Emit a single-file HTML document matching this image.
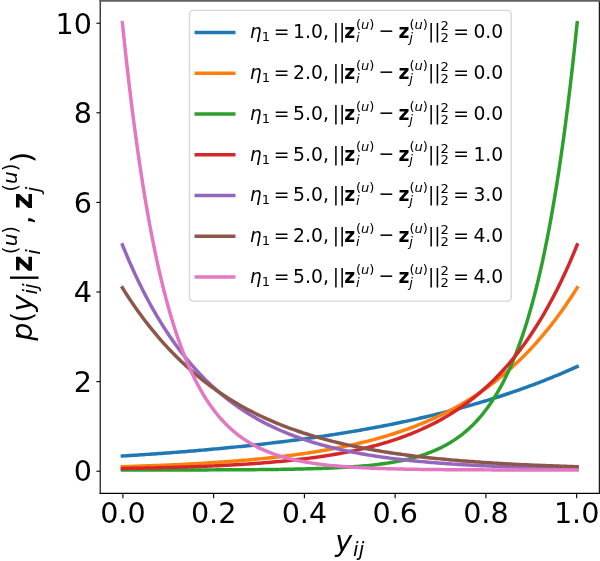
<!DOCTYPE html>
<html><head><meta charset="utf-8"><title>plot</title>
<style>html,body{margin:0;padding:0;background:#fff}svg{display:block}</style></head>
<body>
<svg width="600" height="561" viewBox="0 0 432 403.92" version="1.1">
 <style>svg text{font-family:"DejaVu Sans","Liberation Sans",sans-serif}svg *{stroke-linejoin: round; stroke-linecap: butt}</style>
 <g id="figure_1">
  <g id="patch_1">
   <path d="M 0 403.92  L 432 403.92  L 432 0  L 0 0  z
" style="fill: #ffffff"/>
  </g>
  <g id="axes_1">
   <g id="patch_2">
    <path d="M 72.144 355.248  L 431.532 355.248  L 431.532 0.432  L 72.144 0.432  z
" style="fill: #ffffff"/>
   </g>
   <g id="matplotlib.axis_1">
    <g id="xtick_1">
     <g id="line2d_1">
      <g>
       <path d="M 88.479 355.248 l 0 3.5" style="fill: none; stroke: #000000; stroke-width: 0.8"/>
      </g>
     </g>
     <g id="text_1">
      <text style="font-size: 20.6px; text-anchor: middle" x="88.479" y="376.500" transform="rotate(-0 88.479 376.500)">0.0</text>
     </g>
    </g>
    <g id="xtick_2">
     <g id="line2d_2">
      <g>
       <path d="M 153.823 355.248 l 0 3.5" style="fill: none; stroke: #000000; stroke-width: 0.8"/>
      </g>
     </g>
     <g id="text_2">
      <text style="font-size: 20.6px; text-anchor: middle" x="153.823" y="376.500" transform="rotate(-0 153.823 376.500)">0.2</text>
     </g>
    </g>
    <g id="xtick_3">
     <g id="line2d_3">
      <g>
       <path d="M 219.166 355.248 l 0 3.5" style="fill: none; stroke: #000000; stroke-width: 0.8"/>
      </g>
     </g>
     <g id="text_3">
      <text style="font-size: 20.6px; text-anchor: middle" x="219.166" y="376.500" transform="rotate(-0 219.166 376.500)">0.4</text>
     </g>
    </g>
    <g id="xtick_4">
     <g id="line2d_4">
      <g>
       <path d="M 284.509 355.248 l 0 3.5" style="fill: none; stroke: #000000; stroke-width: 0.8"/>
      </g>
     </g>
     <g id="text_4">
      <text style="font-size: 20.6px; text-anchor: middle" x="284.509" y="376.500" transform="rotate(-0 284.509 376.500)">0.6</text>
     </g>
    </g>
    <g id="xtick_5">
     <g id="line2d_5">
      <g>
       <path d="M 349.852 355.248 l 0 3.5" style="fill: none; stroke: #000000; stroke-width: 0.8"/>
      </g>
     </g>
     <g id="text_5">
      <text style="font-size: 20.6px; text-anchor: middle" x="349.852" y="376.500" transform="rotate(-0 349.852 376.500)">0.8</text>
     </g>
    </g>
    <g id="xtick_6">
     <g id="line2d_6">
      <g>
       <path d="M 415.196 355.248 l 0 3.5" style="fill: none; stroke: #000000; stroke-width: 0.8"/>
      </g>
     </g>
     <g id="text_6">
      <text style="font-size: 20.6px; text-anchor: middle" x="415.196" y="376.500" transform="rotate(-0 415.196 376.500)">1.0</text>
     </g>
    </g>
    <g id="text_7">
     <g transform="translate(241.435 397.535)">
      <text>
       <tspan x="0.000" y="-0.515" style="font-style: oblique; font-size: 20.6px">y</tspan>
       <tspan x="12.785" y="2.929" style="font-style: oblique; font-size: 14.42px">i</tspan>
       <tspan x="16.797" y="2.929" style="font-style: oblique; font-size: 14.42px">j</tspan>
      </text>
     </g>
    </g>
   </g>
   <g id="matplotlib.axis_2">
    <g id="ytick_1">
     <g id="line2d_7">
      <g>
       <path d="M 72.144 339.274 l -2.75 0" style="fill: none; stroke: #000000; stroke-width: 0.8"/>
      </g>
     </g>
     <g id="text_8">
      <text style="font-size: 20.6px; text-anchor: end" x="66.194" y="346.561" transform="rotate(-0 66.194 346.561)">0</text>
     </g>
    </g>
    <g id="ytick_2">
     <g id="line2d_8">
      <g>
       <path d="M 72.144 274.762 l -2.75 0" style="fill: none; stroke: #000000; stroke-width: 0.8"/>
      </g>
     </g>
     <g id="text_9">
      <text style="font-size: 20.6px; text-anchor: end" x="66.194" y="282.049" transform="rotate(-0 66.194 282.049)">2</text>
     </g>
    </g>
    <g id="ytick_3">
     <g id="line2d_9">
      <g>
       <path d="M 72.144 210.250 l -2.75 0" style="fill: none; stroke: #000000; stroke-width: 0.8"/>
      </g>
     </g>
     <g id="text_10">
      <text style="font-size: 20.6px; text-anchor: end" x="66.194" y="217.537" transform="rotate(-0 66.194 217.537)">4</text>
     </g>
    </g>
    <g id="ytick_4">
     <g id="line2d_10">
      <g>
       <path d="M 72.144 145.738 l -2.75 0" style="fill: none; stroke: #000000; stroke-width: 0.8"/>
      </g>
     </g>
     <g id="text_11">
      <text style="font-size: 20.6px; text-anchor: end" x="66.194" y="153.025" transform="rotate(-0 66.194 153.025)">6</text>
     </g>
    </g>
    <g id="ytick_5">
     <g id="line2d_11">
      <g>
       <path d="M 72.144 81.226 l -2.75 0" style="fill: none; stroke: #000000; stroke-width: 0.8"/>
      </g>
     </g>
     <g id="text_12">
      <text style="font-size: 20.6px; text-anchor: end" x="66.194" y="88.513" transform="rotate(-0 66.194 88.513)">8</text>
     </g>
    </g>
    <g id="ytick_6">
     <g id="line2d_12">
      <g>
       <path d="M 72.144 16.714 l -2.75 0" style="fill: none; stroke: #000000; stroke-width: 0.8"/>
      </g>
     </g>
     <g id="text_13">
      <text style="font-size: 20.6px; text-anchor: end" x="66.194" y="24.721" transform="rotate(-0 66.194 24.721)">10</text>
     </g>
    </g>
    <g id="text_14">
     <g transform="translate(23.944 244.790) rotate(-90)">
      <text>
       <tspan x="-0.600" y="-0.907" style="font-style: oblique; font-size: 20.6px">p</tspan>
       <tspan x="20.538" y="-0.907" style="font-style: oblique; font-size: 20.6px">y</tspan>
       <tspan x="12.492" y="-0.907" style="font-size: 20.6px">(</tspan>
       <tspan x="41.341" y="-0.907" style="font-size: 20.6px">|</tspan>
       <tspan x="83.185" y="-0.907" style="font-size: 20.6px">,</tspan>
       <tspan x="127.354" y="-0.907" style="font-size: 20.6px">)</tspan>
       <tspan x="32.744" y="2.537" style="font-style: oblique; font-size: 14.42px">i</tspan>
       <tspan x="36.755" y="2.537" style="font-style: oblique; font-size: 14.42px">j</tspan>
       <tspan x="61.295" y="4.834" style="font-style: oblique; font-size: 14.42px">i</tspan>
       <tspan x="67.427" y="-11.923" style="font-style: oblique; font-size: 14.42px">u</tspan>
       <tspan x="106.364" y="4.834" style="font-style: oblique; font-size: 14.42px">j</tspan>
       <tspan x="112.297" y="-11.923" style="font-style: oblique; font-size: 14.42px">u</tspan>
       <tspan x="48.889" y="-0.907" style="font-weight: 700; font-size: 20.6px">z</tspan>
       <tspan x="94.159" y="-0.907" style="font-weight: 700; font-size: 20.6px">z</tspan>
       <tspan x="61.795" y="-11.923" style="font-size: 14.42px">(</tspan>
       <tspan x="76.578" y="-11.923" style="font-size: 14.42px">)</tspan>
       <tspan x="106.664" y="-11.923" style="font-size: 14.42px">(</tspan>
       <tspan x="121.447" y="-11.923" style="font-size: 14.42px">)</tspan>
      </text>
     </g>
    </g>
   </g>
   <g id="line2d_13">
    <path d="M 88.119 328.333  L 89.765 328.231  L 91.410 328.128  L 93.055 328.024  L 94.701 327.919  L 96.346 327.813  L 97.992 327.706  L 99.637 327.598  L 101.282 327.489  L 102.928 327.378  L 104.573 327.267  L 106.219 327.154  L 107.864 327.040  L 109.509 326.926  L 111.155 326.810  L 112.800 326.692  L 114.446 326.574  L 116.091 326.454  L 117.737 326.333  L 119.382 326.211  L 121.027 326.088  L 122.673 325.964  L 124.318 325.838  L 125.964 325.711  L 127.609 325.583  L 129.254 325.453  L 130.900 325.322  L 132.545 325.190  L 134.191 325.056  L 135.836 324.921  L 137.481 324.785  L 139.127 324.647  L 140.772 324.508  L 142.418 324.368  L 144.063 324.226  L 145.708 324.083  L 147.354 323.938  L 148.999 323.792  L 150.645 323.644  L 152.290 323.495  L 153.936 323.344  L 155.581 323.192  L 157.226 323.038  L 158.872 322.883  L 160.517 322.726  L 162.163 322.567  L 163.808 322.407  L 165.453 322.246  L 167.099 322.082  L 168.744 321.917  L 170.390 321.751  L 172.035 321.582  L 173.680 321.412  L 175.326 321.241  L 176.971 321.067  L 178.617 320.892  L 180.262 320.715  L 181.908 320.536  L 183.553 320.356  L 185.198 320.173  L 186.844 319.989  L 188.489 319.803  L 190.135 319.615  L 191.780 319.425  L 193.425 319.233  L 195.071 319.039  L 196.716 318.844  L 198.362 318.646  L 200.007 318.446  L 201.652 318.245  L 203.298 318.041  L 204.943 317.835  L 206.589 317.627  L 208.234 317.417  L 209.880 317.205  L 211.525 316.991  L 213.170 316.775  L 214.816 316.556  L 216.461 316.335  L 218.107 316.112  L 219.752 315.887  L 221.397 315.659  L 223.043 315.430  L 224.688 315.197  L 226.334 314.963  L 227.979 314.726  L 229.624 314.487  L 231.270 314.245  L 232.915 314.001  L 234.561 313.754  L 236.206 313.505  L 237.852 313.254  L 239.497 313.000  L 241.142 312.743  L 242.788 312.484  L 244.433 312.222  L 246.079 311.957  L 247.724 311.690  L 249.369 311.420  L 251.015 311.147  L 252.660 310.872  L 254.306 310.594  L 255.951 310.313  L 257.596 310.029  L 259.242 309.742  L 260.887 309.452  L 262.533 309.160  L 264.178 308.864  L 265.823 308.566  L 267.469 308.264  L 269.114 307.960  L 270.760 307.652  L 272.405 307.341  L 274.051 307.028  L 275.696 306.711  L 277.341 306.390  L 278.987 306.067  L 280.632 305.740  L 282.278 305.410  L 283.923 305.077  L 285.568 304.740  L 287.214 304.400  L 288.859 304.056  L 290.505 303.709  L 292.150 303.359  L 293.795 303.005  L 295.441 302.647  L 297.086 302.286  L 298.732 301.921  L 300.377 301.552  L 302.023 301.180  L 303.668 300.804  L 305.313 300.424  L 306.959 300.040  L 308.604 299.652  L 310.250 299.261  L 311.895 298.865  L 313.540 298.466  L 315.186 298.062  L 316.831 297.655  L 318.477 297.243  L 320.122 296.827  L 321.767 296.407  L 323.413 295.983  L 325.058 295.554  L 326.704 295.121  L 328.349 294.684  L 329.995 294.242  L 331.640 293.796  L 333.285 293.345  L 334.931 292.890  L 336.576 292.430  L 338.222 291.966  L 339.867 291.497  L 341.512 291.023  L 343.158 290.544  L 344.803 290.061  L 346.449 289.572  L 348.094 289.079  L 349.739 288.580  L 351.385 288.077  L 353.030 287.569  L 354.676 287.055  L 356.321 286.536  L 357.967 286.012  L 359.612 285.483  L 361.257 284.948  L 362.903 284.408  L 364.548 283.863  L 366.194 283.312  L 367.839 282.755  L 369.484 282.193  L 371.130 281.625  L 372.775 281.051  L 374.421 280.472  L 376.066 279.887  L 377.711 279.296  L 379.357 278.698  L 381.002 278.095  L 382.648 277.486  L 384.293 276.871  L 385.939 276.249  L 387.584 275.621  L 389.229 274.987  L 390.875 274.346  L 392.520 273.699  L 394.166 273.045  L 395.811 272.385  L 397.456 271.718  L 399.102 271.044  L 400.747 270.364  L 402.393 269.676  L 404.038 268.982  L 405.683 268.281  L 407.329 267.572  L 408.974 266.857  L 410.620 266.134  L 412.265 265.404  L 413.910 264.666  L 415.556 263.921 
" style="fill: none; stroke: #1f77b4; stroke-width: 2.5; stroke-linecap: square"/>
   </g>
   <g id="line2d_14">
    <path d="M 88.119 336.011  L 89.765 335.962  L 91.410 335.912  L 93.055 335.861  L 94.701 335.809  L 96.346 335.757  L 97.992 335.703  L 99.637 335.648  L 101.282 335.591  L 102.928 335.534  L 104.573 335.476  L 106.219 335.416  L 107.864 335.355  L 109.509 335.293  L 111.155 335.230  L 112.800 335.165  L 114.446 335.099  L 116.091 335.032  L 117.737 334.963  L 119.382 334.893  L 121.027 334.821  L 122.673 334.748  L 124.318 334.674  L 125.964 334.598  L 127.609 334.521  L 129.254 334.441  L 130.900 334.361  L 132.545 334.279  L 134.191 334.195  L 135.836 334.109  L 137.481 334.021  L 139.127 333.932  L 140.772 333.841  L 142.418 333.748  L 144.063 333.654  L 145.708 333.557  L 147.354 333.458  L 148.999 333.358  L 150.645 333.255  L 152.290 333.150  L 153.936 333.044  L 155.581 332.934  L 157.226 332.823  L 158.872 332.710  L 160.517 332.594  L 162.163 332.476  L 163.808 332.355  L 165.453 332.232  L 167.099 332.107  L 168.744 331.979  L 170.390 331.848  L 172.035 331.715  L 173.680 331.579  L 175.326 331.440  L 176.971 331.298  L 178.617 331.154  L 180.262 331.006  L 181.908 330.856  L 183.553 330.702  L 185.198 330.546  L 186.844 330.386  L 188.489 330.223  L 190.135 330.057  L 191.780 329.887  L 193.425 329.714  L 195.071 329.537  L 196.716 329.357  L 198.362 329.173  L 200.007 328.985  L 201.652 328.794  L 203.298 328.599  L 204.943 328.399  L 206.589 328.196  L 208.234 327.989  L 209.880 327.777  L 211.525 327.561  L 213.170 327.341  L 214.816 327.116  L 216.461 326.886  L 218.107 326.652  L 219.752 326.414  L 221.397 326.170  L 223.043 325.921  L 224.688 325.668  L 226.334 325.409  L 227.979 325.145  L 229.624 324.875  L 231.270 324.600  L 232.915 324.320  L 234.561 324.034  L 236.206 323.742  L 237.852 323.444  L 239.497 323.140  L 241.142 322.830  L 242.788 322.513  L 244.433 322.191  L 246.079 321.861  L 247.724 321.525  L 249.369 321.182  L 251.015 320.832  L 252.660 320.475  L 254.306 320.111  L 255.951 319.739  L 257.596 319.360  L 259.242 318.973  L 260.887 318.579  L 262.533 318.176  L 264.178 317.765  L 265.823 317.346  L 267.469 316.918  L 269.114 316.482  L 270.760 316.036  L 272.405 315.582  L 274.051 315.118  L 275.696 314.645  L 277.341 314.163  L 278.987 313.670  L 280.632 313.168  L 282.278 312.655  L 283.923 312.132  L 285.568 311.599  L 287.214 311.054  L 288.859 310.499  L 290.505 309.932  L 292.150 309.354  L 293.795 308.764  L 295.441 308.162  L 297.086 307.547  L 298.732 306.921  L 300.377 306.281  L 302.023 305.629  L 303.668 304.963  L 305.313 304.284  L 306.959 303.591  L 308.604 302.884  L 310.250 302.162  L 311.895 301.426  L 313.540 300.675  L 315.186 299.909  L 316.831 299.127  L 318.477 298.330  L 320.122 297.516  L 321.767 296.685  L 323.413 295.838  L 325.058 294.974  L 326.704 294.092  L 328.349 293.192  L 329.995 292.274  L 331.640 291.337  L 333.285 290.381  L 334.931 289.406  L 336.576 288.410  L 338.222 287.395  L 339.867 286.359  L 341.512 285.302  L 343.158 284.224  L 344.803 283.124  L 346.449 282.001  L 348.094 280.856  L 349.739 279.687  L 351.385 278.495  L 353.030 277.278  L 354.676 276.037  L 356.321 274.770  L 357.967 273.478  L 359.612 272.160  L 361.257 270.814  L 362.903 269.442  L 364.548 268.042  L 366.194 266.613  L 367.839 265.155  L 369.484 263.667  L 371.130 262.150  L 372.775 260.601  L 374.421 259.021  L 376.066 257.409  L 377.711 255.765  L 379.357 254.087  L 381.002 252.374  L 382.648 250.627  L 384.293 248.845  L 385.939 247.026  L 387.584 245.171  L 389.229 243.278  L 390.875 241.346  L 392.520 239.375  L 394.166 237.364  L 395.811 235.313  L 397.456 233.219  L 399.102 231.083  L 400.747 228.904  L 402.393 226.681  L 404.038 224.412  L 405.683 222.097  L 407.329 219.736  L 408.974 217.326  L 410.620 214.868  L 412.265 212.359  L 413.910 209.800  L 415.556 207.188 
" style="fill: none; stroke: #ff7f0e; stroke-width: 2.5; stroke-linecap: square"/>
   </g>
   <g id="line2d_15">
    <path d="M 88.119 338.400  L 89.765 338.399  L 91.410 338.398  L 93.055 338.397  L 94.701 338.396  L 96.346 338.395  L 97.992 338.394  L 99.637 338.393  L 101.282 338.392  L 102.928 338.391  L 104.573 338.390  L 106.219 338.389  L 107.864 338.387  L 109.509 338.386  L 111.155 338.385  L 112.800 338.383  L 114.446 338.381  L 116.091 338.380  L 117.737 338.378  L 119.382 338.376  L 121.027 338.374  L 122.673 338.372  L 124.318 338.370  L 125.964 338.368  L 127.609 338.365  L 129.254 338.363  L 130.900 338.360  L 132.545 338.357  L 134.191 338.354  L 135.836 338.351  L 137.481 338.348  L 139.127 338.345  L 140.772 338.341  L 142.418 338.337  L 144.063 338.333  L 145.708 338.329  L 147.354 338.325  L 148.999 338.320  L 150.645 338.315  L 152.290 338.310  L 153.936 338.305  L 155.581 338.299  L 157.226 338.293  L 158.872 338.287  L 160.517 338.281  L 162.163 338.274  L 163.808 338.267  L 165.453 338.259  L 167.099 338.251  L 168.744 338.243  L 170.390 338.234  L 172.035 338.224  L 173.680 338.215  L 175.326 338.204  L 176.971 338.194  L 178.617 338.182  L 180.262 338.170  L 181.908 338.158  L 183.553 338.145  L 185.198 338.131  L 186.844 338.116  L 188.489 338.101  L 190.135 338.084  L 191.780 338.067  L 193.425 338.050  L 195.071 338.031  L 196.716 338.011  L 198.362 337.990  L 200.007 337.968  L 201.652 337.945  L 203.298 337.921  L 204.943 337.896  L 206.589 337.869  L 208.234 337.841  L 209.880 337.812  L 211.525 337.781  L 213.170 337.748  L 214.816 337.714  L 216.461 337.677  L 218.107 337.640  L 219.752 337.600  L 221.397 337.558  L 223.043 337.513  L 224.688 337.467  L 226.334 337.418  L 227.979 337.367  L 229.624 337.313  L 231.270 337.256  L 232.915 337.197  L 234.561 337.134  L 236.206 337.068  L 237.852 336.998  L 239.497 336.925  L 241.142 336.849  L 242.788 336.768  L 244.433 336.683  L 246.079 336.594  L 247.724 336.500  L 249.369 336.402  L 251.015 336.298  L 252.660 336.189  L 254.306 336.074  L 255.951 335.954  L 257.596 335.827  L 259.242 335.693  L 260.887 335.553  L 262.533 335.406  L 264.178 335.251  L 265.823 335.088  L 267.469 334.916  L 269.114 334.736  L 270.760 334.546  L 272.405 334.347  L 274.051 334.138  L 275.696 333.917  L 277.341 333.685  L 278.987 333.442  L 280.632 333.185  L 282.278 332.916  L 283.923 332.633  L 285.568 332.335  L 287.214 332.021  L 288.859 331.692  L 290.505 331.345  L 292.150 330.981  L 293.795 330.598  L 295.441 330.195  L 297.086 329.772  L 298.732 329.326  L 300.377 328.858  L 302.023 328.366  L 303.668 327.848  L 305.313 327.303  L 306.959 326.731  L 308.604 326.128  L 310.250 325.495  L 311.895 324.829  L 313.540 324.129  L 315.186 323.393  L 316.831 322.619  L 318.477 321.805  L 320.122 320.949  L 321.767 320.049  L 323.413 319.103  L 325.058 318.107  L 326.704 317.061  L 328.349 315.960  L 329.995 314.803  L 331.640 313.587  L 333.285 312.307  L 334.931 310.962  L 336.576 309.547  L 338.222 308.059  L 339.867 306.495  L 341.512 304.850  L 343.158 303.120  L 344.803 301.301  L 346.449 299.389  L 348.094 297.377  L 349.739 295.262  L 351.385 293.039  L 353.030 290.700  L 354.676 288.241  L 356.321 285.656  L 357.967 282.937  L 359.612 280.078  L 361.257 277.071  L 362.903 273.910  L 364.548 270.586  L 366.194 267.090  L 367.839 263.414  L 369.484 259.549  L 371.130 255.485  L 372.775 251.211  L 374.421 246.717  L 376.066 241.992  L 377.711 237.022  L 379.357 231.797  L 381.002 226.303  L 382.648 220.525  L 384.293 214.449  L 385.939 208.061  L 387.584 201.343  L 389.229 194.279  L 390.875 186.851  L 392.520 179.040  L 394.166 170.827  L 395.811 162.190  L 397.456 153.108  L 399.102 143.559  L 400.747 133.517  L 402.393 122.957  L 404.038 111.854  L 405.683 100.178  L 407.329 87.900  L 408.974 74.990  L 410.620 61.414  L 412.265 47.139  L 413.910 32.128  L 415.556 16.344 
" style="fill: none; stroke: #2ca02c; stroke-width: 2.5; stroke-linecap: square"/>
   </g>
   <g id="line2d_16">
    <path d="M 88.119 337.322  L 89.765 337.294  L 91.410 337.265  L 93.055 337.236  L 94.701 337.206  L 96.346 337.176  L 97.992 337.144  L 99.637 337.112  L 101.282 337.079  L 102.928 337.045  L 104.573 337.010  L 106.219 336.974  L 107.864 336.937  L 109.509 336.900  L 111.155 336.861  L 112.800 336.822  L 114.446 336.781  L 116.091 336.740  L 117.737 336.697  L 119.382 336.653  L 121.027 336.609  L 122.673 336.563  L 124.318 336.516  L 125.964 336.467  L 127.609 336.418  L 129.254 336.367  L 130.900 336.315  L 132.545 336.261  L 134.191 336.207  L 135.836 336.150  L 137.481 336.093  L 139.127 336.034  L 140.772 335.973  L 142.418 335.911  L 144.063 335.847  L 145.708 335.782  L 147.354 335.715  L 148.999 335.647  L 150.645 335.576  L 152.290 335.504  L 153.936 335.430  L 155.581 335.354  L 157.226 335.276  L 158.872 335.196  L 160.517 335.114  L 162.163 335.030  L 163.808 334.944  L 165.453 334.856  L 167.099 334.765  L 168.744 334.673  L 170.390 334.577  L 172.035 334.480  L 173.680 334.380  L 175.326 334.277  L 176.971 334.172  L 178.617 334.064  L 180.262 333.953  L 181.908 333.840  L 183.553 333.723  L 185.198 333.604  L 186.844 333.481  L 188.489 333.356  L 190.135 333.227  L 191.780 333.095  L 193.425 332.960  L 195.071 332.821  L 196.716 332.679  L 198.362 332.533  L 200.007 332.383  L 201.652 332.230  L 203.298 332.073  L 204.943 331.911  L 206.589 331.746  L 208.234 331.576  L 209.880 331.402  L 211.525 331.224  L 213.170 331.041  L 214.816 330.853  L 216.461 330.661  L 218.107 330.463  L 219.752 330.261  L 221.397 330.054  L 223.043 329.841  L 224.688 329.623  L 226.334 329.399  L 227.979 329.170  L 229.624 328.935  L 231.270 328.693  L 232.915 328.446  L 234.561 328.192  L 236.206 327.932  L 237.852 327.666  L 239.497 327.392  L 241.142 327.112  L 242.788 326.824  L 244.433 326.529  L 246.079 326.227  L 247.724 325.917  L 249.369 325.599  L 251.015 325.273  L 252.660 324.938  L 254.306 324.595  L 255.951 324.244  L 257.596 323.883  L 259.242 323.514  L 260.887 323.134  L 262.533 322.746  L 264.178 322.347  L 265.823 321.938  L 267.469 321.519  L 269.114 321.089  L 270.760 320.648  L 272.405 320.196  L 274.051 319.733  L 275.696 319.257  L 277.341 318.770  L 278.987 318.270  L 280.632 317.757  L 282.278 317.232  L 283.923 316.693  L 285.568 316.140  L 287.214 315.574  L 288.859 314.992  L 290.505 314.396  L 292.150 313.785  L 293.795 313.159  L 295.441 312.516  L 297.086 311.857  L 298.732 311.181  L 300.377 310.489  L 302.023 309.778  L 303.668 309.049  L 305.313 308.302  L 306.959 307.536  L 308.604 306.750  L 310.250 305.945  L 311.895 305.119  L 313.540 304.271  L 315.186 303.403  L 316.831 302.512  L 318.477 301.598  L 320.122 300.662  L 321.767 299.701  L 323.413 298.716  L 325.058 297.706  L 326.704 296.670  L 328.349 295.608  L 329.995 294.519  L 331.640 293.402  L 333.285 292.257  L 334.931 291.082  L 336.576 289.878  L 338.222 288.643  L 339.867 287.377  L 341.512 286.078  L 343.158 284.746  L 344.803 283.381  L 346.449 281.981  L 348.094 280.545  L 349.739 279.072  L 351.385 277.562  L 353.030 276.014  L 354.676 274.426  L 356.321 272.798  L 357.967 271.129  L 359.612 269.417  L 361.257 267.661  L 362.903 265.861  L 364.548 264.015  L 366.194 262.122  L 367.839 260.181  L 369.484 258.190  L 371.130 256.149  L 372.775 254.056  L 374.421 251.909  L 376.066 249.708  L 377.711 247.451  L 379.357 245.137  L 381.002 242.764  L 382.648 240.330  L 384.293 237.834  L 385.939 235.275  L 387.584 232.651  L 389.229 229.960  L 390.875 227.200  L 392.520 224.371  L 394.166 221.469  L 395.811 218.493  L 397.456 215.442  L 399.102 212.313  L 400.747 209.105  L 402.393 205.815  L 404.038 202.441  L 405.683 198.981  L 407.329 195.433  L 408.974 191.795  L 410.620 188.065  L 412.265 184.239  L 413.910 180.316  L 415.556 176.294 
" style="fill: none; stroke: #d62728; stroke-width: 2.5; stroke-linecap: square"/>
   </g>
   <g id="line2d_17">
    <path d="M 88.119 176.294  L 89.765 180.316  L 91.410 184.239  L 93.055 188.065  L 94.701 191.795  L 96.346 195.433  L 97.992 198.981  L 99.637 202.441  L 101.282 205.815  L 102.928 209.105  L 104.573 212.313  L 106.219 215.442  L 107.864 218.493  L 109.509 221.469  L 111.155 224.371  L 112.800 227.200  L 114.446 229.960  L 116.091 232.651  L 117.737 235.275  L 119.382 237.834  L 121.027 240.330  L 122.673 242.764  L 124.318 245.137  L 125.964 247.451  L 127.609 249.708  L 129.254 251.909  L 130.900 254.056  L 132.545 256.149  L 134.191 258.190  L 135.836 260.181  L 137.481 262.122  L 139.127 264.015  L 140.772 265.861  L 142.418 267.661  L 144.063 269.417  L 145.708 271.129  L 147.354 272.798  L 148.999 274.426  L 150.645 276.014  L 152.290 277.562  L 153.936 279.072  L 155.581 280.545  L 157.226 281.981  L 158.872 283.381  L 160.517 284.746  L 162.163 286.078  L 163.808 287.377  L 165.453 288.643  L 167.099 289.878  L 168.744 291.082  L 170.390 292.257  L 172.035 293.402  L 173.680 294.519  L 175.326 295.608  L 176.971 296.670  L 178.617 297.706  L 180.262 298.716  L 181.908 299.701  L 183.553 300.662  L 185.198 301.598  L 186.844 302.512  L 188.489 303.403  L 190.135 304.271  L 191.780 305.119  L 193.425 305.945  L 195.071 306.750  L 196.716 307.536  L 198.362 308.302  L 200.007 309.049  L 201.652 309.778  L 203.298 310.489  L 204.943 311.181  L 206.589 311.857  L 208.234 312.516  L 209.880 313.159  L 211.525 313.785  L 213.170 314.396  L 214.816 314.992  L 216.461 315.574  L 218.107 316.140  L 219.752 316.693  L 221.397 317.232  L 223.043 317.757  L 224.688 318.270  L 226.334 318.770  L 227.979 319.257  L 229.624 319.733  L 231.270 320.196  L 232.915 320.648  L 234.561 321.089  L 236.206 321.519  L 237.852 321.938  L 239.497 322.347  L 241.142 322.746  L 242.788 323.134  L 244.433 323.514  L 246.079 323.883  L 247.724 324.244  L 249.369 324.595  L 251.015 324.938  L 252.660 325.273  L 254.306 325.599  L 255.951 325.917  L 257.596 326.227  L 259.242 326.529  L 260.887 326.824  L 262.533 327.112  L 264.178 327.392  L 265.823 327.666  L 267.469 327.932  L 269.114 328.192  L 270.760 328.446  L 272.405 328.693  L 274.051 328.935  L 275.696 329.170  L 277.341 329.399  L 278.987 329.623  L 280.632 329.841  L 282.278 330.054  L 283.923 330.261  L 285.568 330.463  L 287.214 330.661  L 288.859 330.853  L 290.505 331.041  L 292.150 331.224  L 293.795 331.402  L 295.441 331.576  L 297.086 331.746  L 298.732 331.911  L 300.377 332.073  L 302.023 332.230  L 303.668 332.383  L 305.313 332.533  L 306.959 332.679  L 308.604 332.821  L 310.250 332.960  L 311.895 333.095  L 313.540 333.227  L 315.186 333.356  L 316.831 333.481  L 318.477 333.604  L 320.122 333.723  L 321.767 333.840  L 323.413 333.953  L 325.058 334.064  L 326.704 334.172  L 328.349 334.277  L 329.995 334.380  L 331.640 334.480  L 333.285 334.577  L 334.931 334.673  L 336.576 334.765  L 338.222 334.856  L 339.867 334.944  L 341.512 335.030  L 343.158 335.114  L 344.803 335.196  L 346.449 335.276  L 348.094 335.354  L 349.739 335.430  L 351.385 335.504  L 353.030 335.576  L 354.676 335.647  L 356.321 335.715  L 357.967 335.782  L 359.612 335.847  L 361.257 335.911  L 362.903 335.973  L 364.548 336.034  L 366.194 336.093  L 367.839 336.150  L 369.484 336.207  L 371.130 336.261  L 372.775 336.315  L 374.421 336.367  L 376.066 336.418  L 377.711 336.467  L 379.357 336.516  L 381.002 336.563  L 382.648 336.609  L 384.293 336.653  L 385.939 336.697  L 387.584 336.740  L 389.229 336.781  L 390.875 336.822  L 392.520 336.861  L 394.166 336.900  L 395.811 336.937  L 397.456 336.974  L 399.102 337.010  L 400.747 337.045  L 402.393 337.079  L 404.038 337.112  L 405.683 337.144  L 407.329 337.176  L 408.974 337.206  L 410.620 337.236  L 412.265 337.265  L 413.910 337.294  L 415.556 337.322 
" style="fill: none; stroke: #9467bd; stroke-width: 2.5; stroke-linecap: square"/>
   </g>
   <g id="line2d_18">
    <path d="M 88.119 207.188  L 89.765 209.800  L 91.410 212.359  L 93.055 214.868  L 94.701 217.326  L 96.346 219.736  L 97.992 222.097  L 99.637 224.412  L 101.282 226.681  L 102.928 228.904  L 104.573 231.083  L 106.219 233.219  L 107.864 235.313  L 109.509 237.364  L 111.155 239.375  L 112.800 241.346  L 114.446 243.278  L 116.091 245.171  L 117.737 247.026  L 119.382 248.845  L 121.027 250.627  L 122.673 252.374  L 124.318 254.087  L 125.964 255.765  L 127.609 257.409  L 129.254 259.021  L 130.900 260.601  L 132.545 262.150  L 134.191 263.667  L 135.836 265.155  L 137.481 266.613  L 139.127 268.042  L 140.772 269.442  L 142.418 270.814  L 144.063 272.160  L 145.708 273.478  L 147.354 274.770  L 148.999 276.037  L 150.645 277.278  L 152.290 278.495  L 153.936 279.687  L 155.581 280.856  L 157.226 282.001  L 158.872 283.124  L 160.517 284.224  L 162.163 285.302  L 163.808 286.359  L 165.453 287.395  L 167.099 288.410  L 168.744 289.406  L 170.390 290.381  L 172.035 291.337  L 173.680 292.274  L 175.326 293.192  L 176.971 294.092  L 178.617 294.974  L 180.262 295.838  L 181.908 296.685  L 183.553 297.516  L 185.198 298.330  L 186.844 299.127  L 188.489 299.909  L 190.135 300.675  L 191.780 301.426  L 193.425 302.162  L 195.071 302.884  L 196.716 303.591  L 198.362 304.284  L 200.007 304.963  L 201.652 305.629  L 203.298 306.281  L 204.943 306.921  L 206.589 307.547  L 208.234 308.162  L 209.880 308.764  L 211.525 309.354  L 213.170 309.932  L 214.816 310.499  L 216.461 311.054  L 218.107 311.599  L 219.752 312.132  L 221.397 312.655  L 223.043 313.168  L 224.688 313.670  L 226.334 314.163  L 227.979 314.645  L 229.624 315.118  L 231.270 315.582  L 232.915 316.036  L 234.561 316.482  L 236.206 316.918  L 237.852 317.346  L 239.497 317.765  L 241.142 318.176  L 242.788 318.579  L 244.433 318.973  L 246.079 319.360  L 247.724 319.739  L 249.369 320.111  L 251.015 320.475  L 252.660 320.832  L 254.306 321.182  L 255.951 321.525  L 257.596 321.861  L 259.242 322.191  L 260.887 322.513  L 262.533 322.830  L 264.178 323.140  L 265.823 323.444  L 267.469 323.742  L 269.114 324.034  L 270.760 324.320  L 272.405 324.600  L 274.051 324.875  L 275.696 325.145  L 277.341 325.409  L 278.987 325.668  L 280.632 325.921  L 282.278 326.170  L 283.923 326.414  L 285.568 326.652  L 287.214 326.886  L 288.859 327.116  L 290.505 327.341  L 292.150 327.561  L 293.795 327.777  L 295.441 327.989  L 297.086 328.196  L 298.732 328.399  L 300.377 328.599  L 302.023 328.794  L 303.668 328.985  L 305.313 329.173  L 306.959 329.357  L 308.604 329.537  L 310.250 329.714  L 311.895 329.887  L 313.540 330.057  L 315.186 330.223  L 316.831 330.386  L 318.477 330.546  L 320.122 330.702  L 321.767 330.856  L 323.413 331.006  L 325.058 331.154  L 326.704 331.298  L 328.349 331.440  L 329.995 331.579  L 331.640 331.715  L 333.285 331.848  L 334.931 331.979  L 336.576 332.107  L 338.222 332.232  L 339.867 332.355  L 341.512 332.476  L 343.158 332.594  L 344.803 332.710  L 346.449 332.823  L 348.094 332.934  L 349.739 333.044  L 351.385 333.150  L 353.030 333.255  L 354.676 333.358  L 356.321 333.458  L 357.967 333.557  L 359.612 333.654  L 361.257 333.748  L 362.903 333.841  L 364.548 333.932  L 366.194 334.021  L 367.839 334.109  L 369.484 334.195  L 371.130 334.279  L 372.775 334.361  L 374.421 334.441  L 376.066 334.521  L 377.711 334.598  L 379.357 334.674  L 381.002 334.748  L 382.648 334.821  L 384.293 334.893  L 385.939 334.963  L 387.584 335.032  L 389.229 335.099  L 390.875 335.165  L 392.520 335.230  L 394.166 335.293  L 395.811 335.355  L 397.456 335.416  L 399.102 335.476  L 400.747 335.534  L 402.393 335.591  L 404.038 335.648  L 405.683 335.703  L 407.329 335.757  L 408.974 335.809  L 410.620 335.861  L 412.265 335.912  L 413.910 335.962  L 415.556 336.011 
" style="fill: none; stroke: #8c564b; stroke-width: 2.5; stroke-linecap: square"/>
   </g>
   <g id="line2d_19">
    <path d="M 88.119 16.344  L 89.765 32.128  L 91.410 47.139  L 93.055 61.414  L 94.701 74.990  L 96.346 87.900  L 97.992 100.178  L 99.637 111.854  L 101.282 122.957  L 102.928 133.517  L 104.573 143.559  L 106.219 153.108  L 107.864 162.190  L 109.509 170.827  L 111.155 179.040  L 112.800 186.851  L 114.446 194.279  L 116.091 201.343  L 117.737 208.061  L 119.382 214.449  L 121.027 220.525  L 122.673 226.303  L 124.318 231.797  L 125.964 237.022  L 127.609 241.992  L 129.254 246.717  L 130.900 251.211  L 132.545 255.485  L 134.191 259.549  L 135.836 263.414  L 137.481 267.090  L 139.127 270.586  L 140.772 273.910  L 142.418 277.071  L 144.063 280.078  L 145.708 282.937  L 147.354 285.656  L 148.999 288.241  L 150.645 290.700  L 152.290 293.039  L 153.936 295.262  L 155.581 297.377  L 157.226 299.389  L 158.872 301.301  L 160.517 303.120  L 162.163 304.850  L 163.808 306.495  L 165.453 308.059  L 167.099 309.547  L 168.744 310.962  L 170.390 312.307  L 172.035 313.587  L 173.680 314.803  L 175.326 315.960  L 176.971 317.061  L 178.617 318.107  L 180.262 319.103  L 181.908 320.049  L 183.553 320.949  L 185.198 321.805  L 186.844 322.619  L 188.489 323.393  L 190.135 324.129  L 191.780 324.829  L 193.425 325.495  L 195.071 326.128  L 196.716 326.731  L 198.362 327.303  L 200.007 327.848  L 201.652 328.366  L 203.298 328.858  L 204.943 329.326  L 206.589 329.772  L 208.234 330.195  L 209.880 330.598  L 211.525 330.981  L 213.170 331.345  L 214.816 331.692  L 216.461 332.021  L 218.107 332.335  L 219.752 332.633  L 221.397 332.916  L 223.043 333.185  L 224.688 333.442  L 226.334 333.685  L 227.979 333.917  L 229.624 334.138  L 231.270 334.347  L 232.915 334.546  L 234.561 334.736  L 236.206 334.916  L 237.852 335.088  L 239.497 335.251  L 241.142 335.406  L 242.788 335.553  L 244.433 335.693  L 246.079 335.827  L 247.724 335.954  L 249.369 336.074  L 251.015 336.189  L 252.660 336.298  L 254.306 336.402  L 255.951 336.500  L 257.596 336.594  L 259.242 336.683  L 260.887 336.768  L 262.533 336.849  L 264.178 336.925  L 265.823 336.998  L 267.469 337.068  L 269.114 337.134  L 270.760 337.197  L 272.405 337.256  L 274.051 337.313  L 275.696 337.367  L 277.341 337.418  L 278.987 337.467  L 280.632 337.513  L 282.278 337.558  L 283.923 337.600  L 285.568 337.640  L 287.214 337.677  L 288.859 337.714  L 290.505 337.748  L 292.150 337.781  L 293.795 337.812  L 295.441 337.841  L 297.086 337.869  L 298.732 337.896  L 300.377 337.921  L 302.023 337.945  L 303.668 337.968  L 305.313 337.990  L 306.959 338.011  L 308.604 338.031  L 310.250 338.050  L 311.895 338.067  L 313.540 338.084  L 315.186 338.101  L 316.831 338.116  L 318.477 338.131  L 320.122 338.145  L 321.767 338.158  L 323.413 338.170  L 325.058 338.182  L 326.704 338.194  L 328.349 338.204  L 329.995 338.215  L 331.640 338.224  L 333.285 338.234  L 334.931 338.243  L 336.576 338.251  L 338.222 338.259  L 339.867 338.267  L 341.512 338.274  L 343.158 338.281  L 344.803 338.287  L 346.449 338.293  L 348.094 338.299  L 349.739 338.305  L 351.385 338.310  L 353.030 338.315  L 354.676 338.320  L 356.321 338.325  L 357.967 338.329  L 359.612 338.333  L 361.257 338.337  L 362.903 338.341  L 364.548 338.345  L 366.194 338.348  L 367.839 338.351  L 369.484 338.354  L 371.130 338.357  L 372.775 338.360  L 374.421 338.363  L 376.066 338.365  L 377.711 338.368  L 379.357 338.370  L 381.002 338.372  L 382.648 338.374  L 384.293 338.376  L 385.939 338.378  L 387.584 338.380  L 389.229 338.381  L 390.875 338.383  L 392.520 338.385  L 394.166 338.386  L 395.811 338.387  L 397.456 338.389  L 399.102 338.390  L 400.747 338.391  L 402.393 338.392  L 404.038 338.393  L 405.683 338.394  L 407.329 338.395  L 408.974 338.396  L 410.620 338.397  L 412.265 338.398  L 413.910 338.399  L 415.556 338.400 
" style="fill: none; stroke: #e377c2; stroke-width: 2.5; stroke-linecap: square"/>
   </g>
   <g id="patch_3">
    <path d="M 72.144 355.248  L 72.144 0.432 
" style="fill: none; stroke: #000000; stroke-width: 0.8; stroke-linejoin: miter; stroke-linecap: square"/>
   </g>
   <g id="patch_4">
    <path d="M 431.532 355.248  L 431.532 0.432 
" style="fill: none; stroke: #000000; stroke-width: 0.8; stroke-linejoin: miter; stroke-linecap: square"/>
   </g>
   <g id="patch_5">
    <path d="M 72.144 355.248  L 431.532 355.248 
" style="fill: none; stroke: #000000; stroke-width: 0.8; stroke-linejoin: miter; stroke-linecap: square"/>
   </g>
   <g id="patch_6">
    <path d="M 72.144 0.6  L 431.532 0.6 
" style="fill: none; stroke: #606060; stroke-width: 1.2; stroke-linejoin: miter; stroke-linecap: square"/>
   </g>
   <g id="legend_1">
    <g id="patch_7">
     <rect x="136.440" y="7.488" width="231.624" height="209.304" rx="2.70" ry="2.70" style="fill: #ffffff; opacity: 0.8; stroke: #cccccc; stroke-linejoin: miter"/>
    </g>
    <g id="line2d_20">
     <path transform="translate(-0.72 -0.36)" d="M 142.02 23.778  L 155.52 23.778  L 169.02 23.778 
" style="fill: none; stroke: #1f77b4; stroke-width: 2.5; stroke-linecap: square"/>
    </g>
    <g id="text_15">
     <g transform="translate(179.82 28.503)">
      <text>
       <tspan x="0.000" y="-0.964" style="font-style: oblique; font-size: 13.5px">η</tspan>
       <tspan x="8.556" y="1.332" style="font-size: 9.45px">1</tspan>
       <tspan x="76.422" y="-7.562" style="font-size: 9.45px">(</tspan>
       <tspan x="86.098" y="-7.562" style="font-size: 9.45px">)</tspan>
       <tspan x="114.951" y="-7.562" style="font-size: 9.45px">(</tspan>
       <tspan x="124.627" y="-7.562" style="font-size: 9.45px">)</tspan>
       <tspan x="137.287" y="-6.623" style="font-size: 9.45px">2</tspan>
       <tspan x="137.287" y="1.864" style="font-size: 9.45px">2</tspan>
       <tspan x="17.221" y="-0.964" style="font-size: 13.5px">=</tspan>
       <tspan x="31.163" y="-0.964" style="font-size: 13.5px">1</tspan>
       <tspan x="39.752" y="-0.964" style="font-size: 13.5px">.</tspan>
       <tspan x="44.043" y="-0.964" style="font-size: 13.5px">0</tspan>
       <tspan x="52.792" y="-0.964" style="font-size: 13.5px">,</tspan>
       <tspan x="59.714" y="-0.964" style="font-size: 13.5px">|</tspan>
       <tspan x="64.262" y="-0.964" style="font-size: 13.5px">|</tspan>
       <tspan x="92.657" y="-1.544" style="font-size: 13.5px">−</tspan>
       <tspan x="128.266" y="-0.964" style="font-size: 13.5px">|</tspan>
       <tspan x="132.815" y="-0.964" style="font-size: 13.5px">|</tspan>
       <tspan x="146.592" y="-1.164" style="font-size: 13.5px">=</tspan>
       <tspan x="161.054" y="-0.964" style="font-size: 13.5px">0</tspan>
       <tspan x="169.643" y="-0.964" style="font-size: 13.5px">.</tspan>
       <tspan x="173.934" y="-0.964" style="font-size: 13.5px">0</tspan>
       <tspan x="68.070" y="-0.964" style="font-weight: 700; font-size: 13.5px">z</tspan>
       <tspan x="107.029" y="-0.964" style="font-weight: 700; font-size: 13.5px">z</tspan>
       <tspan x="76.422" y="1.964" style="font-style: oblique; font-size: 9.45px">i</tspan>
       <tspan x="80.108" y="-7.562" style="font-style: oblique; font-size: 9.45px">u</tspan>
       <tspan x="114.881" y="1.764" style="font-style: oblique; font-size: 9.45px">j</tspan>
       <tspan x="118.637" y="-7.562" style="font-style: oblique; font-size: 9.45px">u</tspan>
      </text>
     </g>
    </g>
    <g id="line2d_21">
     <path transform="translate(-0.72 -0.36)" d="M 142.02 53.127  L 155.52 53.127  L 169.02 53.127 
" style="fill: none; stroke: #ff7f0e; stroke-width: 2.5; stroke-linecap: square"/>
    </g>
    <g id="text_16">
     <g transform="translate(179.82 57.852)">
      <text>
       <tspan x="0.000" y="-0.964" style="font-style: oblique; font-size: 13.5px">η</tspan>
       <tspan x="8.556" y="1.332" style="font-size: 9.45px">1</tspan>
       <tspan x="76.422" y="-7.562" style="font-size: 9.45px">(</tspan>
       <tspan x="86.098" y="-7.562" style="font-size: 9.45px">)</tspan>
       <tspan x="114.951" y="-7.562" style="font-size: 9.45px">(</tspan>
       <tspan x="124.627" y="-7.562" style="font-size: 9.45px">)</tspan>
       <tspan x="137.287" y="-6.623" style="font-size: 9.45px">2</tspan>
       <tspan x="137.287" y="1.864" style="font-size: 9.45px">2</tspan>
       <tspan x="17.221" y="-0.964" style="font-size: 13.5px">=</tspan>
       <tspan x="31.163" y="-0.964" style="font-size: 13.5px">2</tspan>
       <tspan x="39.752" y="-0.964" style="font-size: 13.5px">.</tspan>
       <tspan x="44.043" y="-0.964" style="font-size: 13.5px">0</tspan>
       <tspan x="52.792" y="-0.964" style="font-size: 13.5px">,</tspan>
       <tspan x="59.714" y="-0.964" style="font-size: 13.5px">|</tspan>
       <tspan x="64.262" y="-0.964" style="font-size: 13.5px">|</tspan>
       <tspan x="92.657" y="-1.544" style="font-size: 13.5px">−</tspan>
       <tspan x="128.266" y="-0.964" style="font-size: 13.5px">|</tspan>
       <tspan x="132.815" y="-0.964" style="font-size: 13.5px">|</tspan>
       <tspan x="146.592" y="-1.164" style="font-size: 13.5px">=</tspan>
       <tspan x="161.054" y="-0.964" style="font-size: 13.5px">0</tspan>
       <tspan x="169.643" y="-0.964" style="font-size: 13.5px">.</tspan>
       <tspan x="173.934" y="-0.964" style="font-size: 13.5px">0</tspan>
       <tspan x="68.070" y="-0.964" style="font-weight: 700; font-size: 13.5px">z</tspan>
       <tspan x="107.029" y="-0.964" style="font-weight: 700; font-size: 13.5px">z</tspan>
       <tspan x="76.422" y="1.964" style="font-style: oblique; font-size: 9.45px">i</tspan>
       <tspan x="80.108" y="-7.562" style="font-style: oblique; font-size: 9.45px">u</tspan>
       <tspan x="114.881" y="1.764" style="font-style: oblique; font-size: 9.45px">j</tspan>
       <tspan x="118.637" y="-7.562" style="font-style: oblique; font-size: 9.45px">u</tspan>
      </text>
     </g>
    </g>
    <g id="line2d_22">
     <path transform="translate(-0.72 -0.36)" d="M 142.02 82.476  L 155.52 82.476  L 169.02 82.476 
" style="fill: none; stroke: #2ca02c; stroke-width: 2.5; stroke-linecap: square"/>
    </g>
    <g id="text_17">
     <g transform="translate(179.82 87.201)">
      <text>
       <tspan x="0.000" y="-0.964" style="font-style: oblique; font-size: 13.5px">η</tspan>
       <tspan x="8.556" y="1.332" style="font-size: 9.45px">1</tspan>
       <tspan x="76.422" y="-7.562" style="font-size: 9.45px">(</tspan>
       <tspan x="86.098" y="-7.562" style="font-size: 9.45px">)</tspan>
       <tspan x="114.951" y="-7.562" style="font-size: 9.45px">(</tspan>
       <tspan x="124.627" y="-7.562" style="font-size: 9.45px">)</tspan>
       <tspan x="137.287" y="-6.623" style="font-size: 9.45px">2</tspan>
       <tspan x="137.287" y="1.864" style="font-size: 9.45px">2</tspan>
       <tspan x="17.221" y="-0.964" style="font-size: 13.5px">=</tspan>
       <tspan x="31.163" y="-0.964" style="font-size: 13.5px">5</tspan>
       <tspan x="39.752" y="-0.964" style="font-size: 13.5px">.</tspan>
       <tspan x="44.043" y="-0.964" style="font-size: 13.5px">0</tspan>
       <tspan x="52.792" y="-0.964" style="font-size: 13.5px">,</tspan>
       <tspan x="59.714" y="-0.964" style="font-size: 13.5px">|</tspan>
       <tspan x="64.262" y="-0.964" style="font-size: 13.5px">|</tspan>
       <tspan x="92.657" y="-1.544" style="font-size: 13.5px">−</tspan>
       <tspan x="128.266" y="-0.964" style="font-size: 13.5px">|</tspan>
       <tspan x="132.815" y="-0.964" style="font-size: 13.5px">|</tspan>
       <tspan x="146.592" y="-1.164" style="font-size: 13.5px">=</tspan>
       <tspan x="161.054" y="-0.964" style="font-size: 13.5px">0</tspan>
       <tspan x="169.643" y="-0.964" style="font-size: 13.5px">.</tspan>
       <tspan x="173.934" y="-0.964" style="font-size: 13.5px">0</tspan>
       <tspan x="68.070" y="-0.964" style="font-weight: 700; font-size: 13.5px">z</tspan>
       <tspan x="107.029" y="-0.964" style="font-weight: 700; font-size: 13.5px">z</tspan>
       <tspan x="76.422" y="1.964" style="font-style: oblique; font-size: 9.45px">i</tspan>
       <tspan x="80.108" y="-7.562" style="font-style: oblique; font-size: 9.45px">u</tspan>
       <tspan x="114.881" y="1.764" style="font-style: oblique; font-size: 9.45px">j</tspan>
       <tspan x="118.637" y="-7.562" style="font-style: oblique; font-size: 9.45px">u</tspan>
      </text>
     </g>
    </g>
    <g id="line2d_23">
     <path transform="translate(-0.72 -0.36)" d="M 142.02 111.825  L 155.52 111.825  L 169.02 111.825 
" style="fill: none; stroke: #d62728; stroke-width: 2.5; stroke-linecap: square"/>
    </g>
    <g id="text_18">
     <g transform="translate(179.82 116.55)">
      <text>
       <tspan x="0.000" y="-0.964" style="font-style: oblique; font-size: 13.5px">η</tspan>
       <tspan x="8.556" y="1.332" style="font-size: 9.45px">1</tspan>
       <tspan x="76.422" y="-7.562" style="font-size: 9.45px">(</tspan>
       <tspan x="86.098" y="-7.562" style="font-size: 9.45px">)</tspan>
       <tspan x="114.951" y="-7.562" style="font-size: 9.45px">(</tspan>
       <tspan x="124.627" y="-7.562" style="font-size: 9.45px">)</tspan>
       <tspan x="137.287" y="-6.623" style="font-size: 9.45px">2</tspan>
       <tspan x="137.287" y="1.864" style="font-size: 9.45px">2</tspan>
       <tspan x="17.221" y="-0.964" style="font-size: 13.5px">=</tspan>
       <tspan x="31.163" y="-0.964" style="font-size: 13.5px">5</tspan>
       <tspan x="39.752" y="-0.964" style="font-size: 13.5px">.</tspan>
       <tspan x="44.043" y="-0.964" style="font-size: 13.5px">0</tspan>
       <tspan x="52.792" y="-0.964" style="font-size: 13.5px">,</tspan>
       <tspan x="59.714" y="-0.964" style="font-size: 13.5px">|</tspan>
       <tspan x="64.262" y="-0.964" style="font-size: 13.5px">|</tspan>
       <tspan x="92.657" y="-1.544" style="font-size: 13.5px">−</tspan>
       <tspan x="128.266" y="-0.964" style="font-size: 13.5px">|</tspan>
       <tspan x="132.815" y="-0.964" style="font-size: 13.5px">|</tspan>
       <tspan x="146.592" y="-1.164" style="font-size: 13.5px">=</tspan>
       <tspan x="161.054" y="-0.964" style="font-size: 13.5px">1</tspan>
       <tspan x="169.643" y="-0.964" style="font-size: 13.5px">.</tspan>
       <tspan x="173.934" y="-0.964" style="font-size: 13.5px">0</tspan>
       <tspan x="68.070" y="-0.964" style="font-weight: 700; font-size: 13.5px">z</tspan>
       <tspan x="107.029" y="-0.964" style="font-weight: 700; font-size: 13.5px">z</tspan>
       <tspan x="76.422" y="1.964" style="font-style: oblique; font-size: 9.45px">i</tspan>
       <tspan x="80.108" y="-7.562" style="font-style: oblique; font-size: 9.45px">u</tspan>
       <tspan x="114.881" y="1.764" style="font-style: oblique; font-size: 9.45px">j</tspan>
       <tspan x="118.637" y="-7.562" style="font-style: oblique; font-size: 9.45px">u</tspan>
      </text>
     </g>
    </g>
    <g id="line2d_24">
     <path transform="translate(-0.72 -0.36)" d="M 142.02 141.174  L 155.52 141.174  L 169.02 141.174 
" style="fill: none; stroke: #9467bd; stroke-width: 2.5; stroke-linecap: square"/>
    </g>
    <g id="text_19">
     <g transform="translate(179.82 145.899)">
      <text>
       <tspan x="0.000" y="-0.964" style="font-style: oblique; font-size: 13.5px">η</tspan>
       <tspan x="8.556" y="1.332" style="font-size: 9.45px">1</tspan>
       <tspan x="76.422" y="-7.562" style="font-size: 9.45px">(</tspan>
       <tspan x="86.098" y="-7.562" style="font-size: 9.45px">)</tspan>
       <tspan x="114.951" y="-7.562" style="font-size: 9.45px">(</tspan>
       <tspan x="124.627" y="-7.562" style="font-size: 9.45px">)</tspan>
       <tspan x="137.287" y="-6.623" style="font-size: 9.45px">2</tspan>
       <tspan x="137.287" y="1.864" style="font-size: 9.45px">2</tspan>
       <tspan x="17.221" y="-0.964" style="font-size: 13.5px">=</tspan>
       <tspan x="31.163" y="-0.964" style="font-size: 13.5px">5</tspan>
       <tspan x="39.752" y="-0.964" style="font-size: 13.5px">.</tspan>
       <tspan x="44.043" y="-0.964" style="font-size: 13.5px">0</tspan>
       <tspan x="52.792" y="-0.964" style="font-size: 13.5px">,</tspan>
       <tspan x="59.714" y="-0.964" style="font-size: 13.5px">|</tspan>
       <tspan x="64.262" y="-0.964" style="font-size: 13.5px">|</tspan>
       <tspan x="92.657" y="-1.544" style="font-size: 13.5px">−</tspan>
       <tspan x="128.266" y="-0.964" style="font-size: 13.5px">|</tspan>
       <tspan x="132.815" y="-0.964" style="font-size: 13.5px">|</tspan>
       <tspan x="146.592" y="-1.164" style="font-size: 13.5px">=</tspan>
       <tspan x="161.054" y="-0.964" style="font-size: 13.5px">3</tspan>
       <tspan x="169.643" y="-0.964" style="font-size: 13.5px">.</tspan>
       <tspan x="173.934" y="-0.964" style="font-size: 13.5px">0</tspan>
       <tspan x="68.070" y="-0.964" style="font-weight: 700; font-size: 13.5px">z</tspan>
       <tspan x="107.029" y="-0.964" style="font-weight: 700; font-size: 13.5px">z</tspan>
       <tspan x="76.422" y="1.964" style="font-style: oblique; font-size: 9.45px">i</tspan>
       <tspan x="80.108" y="-7.562" style="font-style: oblique; font-size: 9.45px">u</tspan>
       <tspan x="114.881" y="1.764" style="font-style: oblique; font-size: 9.45px">j</tspan>
       <tspan x="118.637" y="-7.562" style="font-style: oblique; font-size: 9.45px">u</tspan>
      </text>
     </g>
    </g>
    <g id="line2d_25">
     <path transform="translate(-0.72 -0.36)" d="M 142.02 170.523  L 155.52 170.523  L 169.02 170.523 
" style="fill: none; stroke: #8c564b; stroke-width: 2.5; stroke-linecap: square"/>
    </g>
    <g id="text_20">
     <g transform="translate(179.82 175.248)">
      <text>
       <tspan x="0.000" y="-0.964" style="font-style: oblique; font-size: 13.5px">η</tspan>
       <tspan x="8.556" y="1.332" style="font-size: 9.45px">1</tspan>
       <tspan x="76.422" y="-7.562" style="font-size: 9.45px">(</tspan>
       <tspan x="86.098" y="-7.562" style="font-size: 9.45px">)</tspan>
       <tspan x="114.951" y="-7.562" style="font-size: 9.45px">(</tspan>
       <tspan x="124.627" y="-7.562" style="font-size: 9.45px">)</tspan>
       <tspan x="137.287" y="-6.623" style="font-size: 9.45px">2</tspan>
       <tspan x="137.287" y="1.864" style="font-size: 9.45px">2</tspan>
       <tspan x="17.221" y="-0.964" style="font-size: 13.5px">=</tspan>
       <tspan x="31.163" y="-0.964" style="font-size: 13.5px">2</tspan>
       <tspan x="39.752" y="-0.964" style="font-size: 13.5px">.</tspan>
       <tspan x="44.043" y="-0.964" style="font-size: 13.5px">0</tspan>
       <tspan x="52.792" y="-0.964" style="font-size: 13.5px">,</tspan>
       <tspan x="59.714" y="-0.964" style="font-size: 13.5px">|</tspan>
       <tspan x="64.262" y="-0.964" style="font-size: 13.5px">|</tspan>
       <tspan x="92.657" y="-1.544" style="font-size: 13.5px">−</tspan>
       <tspan x="128.266" y="-0.964" style="font-size: 13.5px">|</tspan>
       <tspan x="132.815" y="-0.964" style="font-size: 13.5px">|</tspan>
       <tspan x="146.592" y="-1.164" style="font-size: 13.5px">=</tspan>
       <tspan x="161.054" y="-0.964" style="font-size: 13.5px">4</tspan>
       <tspan x="169.643" y="-0.964" style="font-size: 13.5px">.</tspan>
       <tspan x="173.934" y="-0.964" style="font-size: 13.5px">0</tspan>
       <tspan x="68.070" y="-0.964" style="font-weight: 700; font-size: 13.5px">z</tspan>
       <tspan x="107.029" y="-0.964" style="font-weight: 700; font-size: 13.5px">z</tspan>
       <tspan x="76.422" y="1.964" style="font-style: oblique; font-size: 9.45px">i</tspan>
       <tspan x="80.108" y="-7.562" style="font-style: oblique; font-size: 9.45px">u</tspan>
       <tspan x="114.881" y="1.764" style="font-style: oblique; font-size: 9.45px">j</tspan>
       <tspan x="118.637" y="-7.562" style="font-style: oblique; font-size: 9.45px">u</tspan>
      </text>
     </g>
    </g>
    <g id="line2d_26">
     <path transform="translate(-0.72 -0.36)" d="M 142.02 199.872  L 155.52 199.872  L 169.02 199.872 
" style="fill: none; stroke: #e377c2; stroke-width: 2.5; stroke-linecap: square"/>
    </g>
    <g id="text_21">
     <g transform="translate(179.82 204.597)">
      <text>
       <tspan x="0.000" y="-0.964" style="font-style: oblique; font-size: 13.5px">η</tspan>
       <tspan x="8.556" y="1.332" style="font-size: 9.45px">1</tspan>
       <tspan x="76.422" y="-7.562" style="font-size: 9.45px">(</tspan>
       <tspan x="86.098" y="-7.562" style="font-size: 9.45px">)</tspan>
       <tspan x="114.951" y="-7.562" style="font-size: 9.45px">(</tspan>
       <tspan x="124.627" y="-7.562" style="font-size: 9.45px">)</tspan>
       <tspan x="137.287" y="-6.623" style="font-size: 9.45px">2</tspan>
       <tspan x="137.287" y="1.864" style="font-size: 9.45px">2</tspan>
       <tspan x="17.221" y="-0.964" style="font-size: 13.5px">=</tspan>
       <tspan x="31.163" y="-0.964" style="font-size: 13.5px">5</tspan>
       <tspan x="39.752" y="-0.964" style="font-size: 13.5px">.</tspan>
       <tspan x="44.043" y="-0.964" style="font-size: 13.5px">0</tspan>
       <tspan x="52.792" y="-0.964" style="font-size: 13.5px">,</tspan>
       <tspan x="59.714" y="-0.964" style="font-size: 13.5px">|</tspan>
       <tspan x="64.262" y="-0.964" style="font-size: 13.5px">|</tspan>
       <tspan x="92.657" y="-1.544" style="font-size: 13.5px">−</tspan>
       <tspan x="128.266" y="-0.964" style="font-size: 13.5px">|</tspan>
       <tspan x="132.815" y="-0.964" style="font-size: 13.5px">|</tspan>
       <tspan x="146.592" y="-1.164" style="font-size: 13.5px">=</tspan>
       <tspan x="161.054" y="-0.964" style="font-size: 13.5px">4</tspan>
       <tspan x="169.643" y="-0.964" style="font-size: 13.5px">.</tspan>
       <tspan x="173.934" y="-0.964" style="font-size: 13.5px">0</tspan>
       <tspan x="68.070" y="-0.964" style="font-weight: 700; font-size: 13.5px">z</tspan>
       <tspan x="107.029" y="-0.964" style="font-weight: 700; font-size: 13.5px">z</tspan>
       <tspan x="76.422" y="1.964" style="font-style: oblique; font-size: 9.45px">i</tspan>
       <tspan x="80.108" y="-7.562" style="font-style: oblique; font-size: 9.45px">u</tspan>
       <tspan x="114.881" y="1.764" style="font-style: oblique; font-size: 9.45px">j</tspan>
       <tspan x="118.637" y="-7.562" style="font-style: oblique; font-size: 9.45px">u</tspan>
      </text>
     </g>
    </g>
   </g>
  </g>
 </g>
 </svg>

</body></html>
